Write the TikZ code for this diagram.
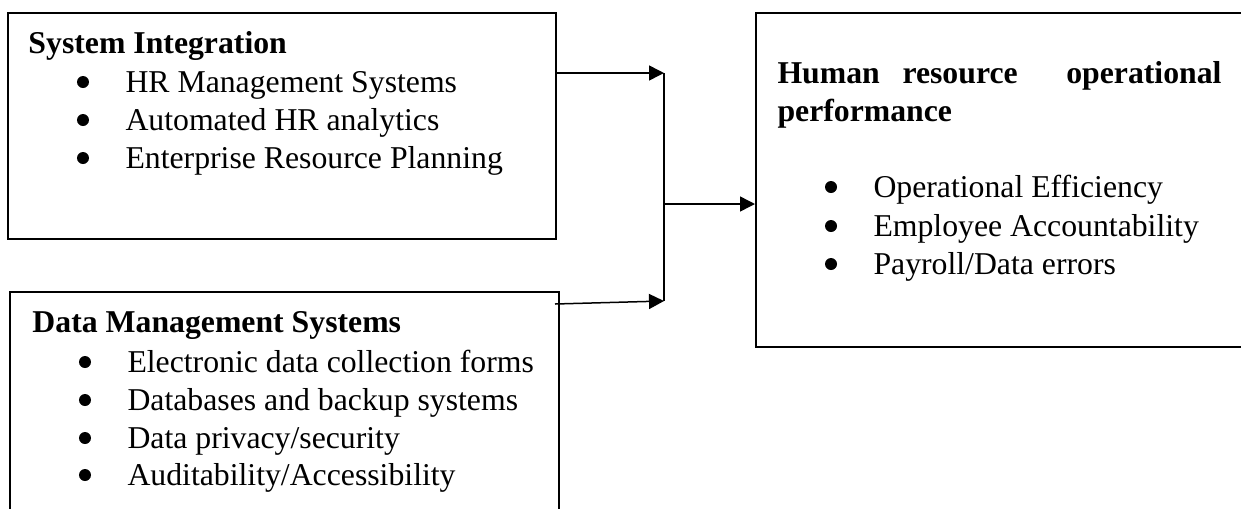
\documentclass[tikz,border=0pt]{standalone}
\usepackage{fontspec}
\setmainfont{Liberation Serif}
\usepackage{tikz}
\usetikzlibrary{arrows.meta,positioning}

\begin{document}
\begin{tikzpicture}[
  x=0.4pt, y=-0.4pt,
  font=\fontsize{12.7}{15}\selectfont,
  box/.style={rectangle, draw, line width=0.8pt, inner sep=0pt},
  head/.style={anchor=base west, inner sep=0pt, font=\fontsize{12.7}{15}\selectfont\bfseries},
  bulletdot/.style={circle, fill, inner sep=0pt, minimum size=4.8pt},
  item/.style={anchor=base west, inner sep=0pt, text height=11pt, text depth=3pt,
    label={[bulletdot, label distance=14.2pt]west:{}}},
  arrow/.style={-{Triangle[length=6pt, width=6pt]}, line width=0.6pt}
]
  \useasboundingbox (0,0) rectangle (1241,508);
  \clip (0,0) rectangle (1241,508);

  % boxes
  \node[box, minimum width=219.2pt, minimum height=90.4pt] (sysint) at (282,126) {};
  \node[box, minimum width=219.6pt, minimum height=91.2pt] (datams) at (284.5,406) {};
  \node[box, minimum width=197.6pt, minimum height=133.6pt] (hrop) at (1003,180) {};

  % System Integration
  \node[head] (sysintT) at (28,53) {System Integration};
  \node[item] (sysintA) at (125,92) {HR Management Systems};
  \node[item] (sysintB) at (125,130) {Automated HR analytics};
  \node[item] (sysintC) at (125,168) {Enterprise Resource Planning};

  % Data Management Systems
  \node[head] (datamsT) at (32,332) {Data Management Systems};
  \node[item] (datamsA) at (127,372) {Electronic data collection forms};
  \node[item] (datamsB) at (127,410) {Databases and backup systems};
  \node[item] (datamsC) at (127,448) {Data privacy/security};
  \node[item] (datamsD) at (127,485) {Auditability/Accessibility};

  % Human resource operational performance
  \node[head] (hropT1) at (777,83) {Human};
  \node[head] (hropT2) at (902,83) {resource};
  \node[head, anchor=base east] (hropT3) at (1222,83) {operational};
  \node[head] (hropT4) at (777,121) {performance};
  \node[item] (hropA) at (873,197) {Operational Efficiency};
  \node[item] (hropB) at (873,236) {Employee Accountability};
  \node[item] (hropC) at (873,274) {Payroll/Data errors};

  % connectors
  \coordinate (j1) at (664,73);
  \coordinate (j2) at (664,301);
  \coordinate (jm) at (664,204);
  \coordinate (s2) at (555,304);

  \draw[arrow] (sysint.east |- j1) -- (j1);
  \draw[arrow] (s2) -- (j2);
  \draw[line width=0.8pt] (j1) -- (j2);
  \draw[arrow] (jm) -- (hrop.west |- jm);
\end{tikzpicture}
\end{document}
